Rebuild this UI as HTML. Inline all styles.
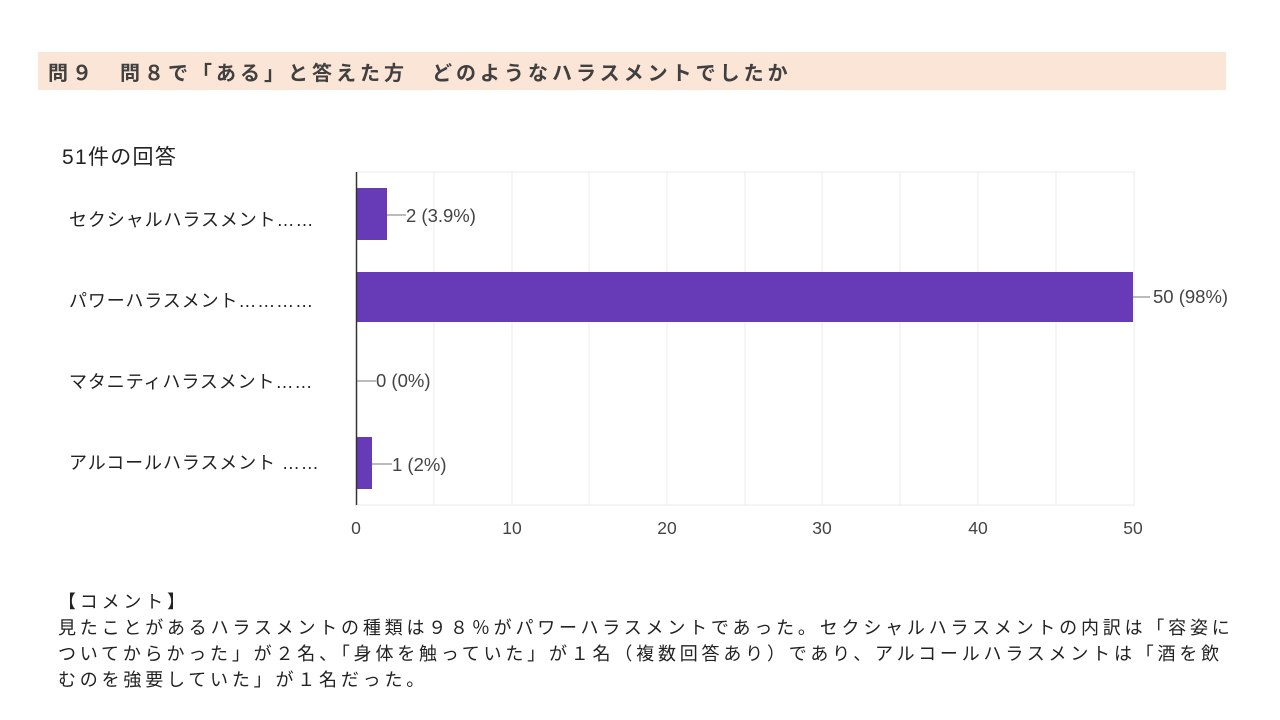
<!DOCTYPE html>
<html><head><meta charset="utf-8"><style>
body{margin:0;width:1280px;height:720px;background:#fff;position:relative;overflow:hidden;font-family:"Liberation Sans","Noto Sans CJK JP",sans-serif;}
.band{position:absolute;left:38px;top:52px;width:1188px;height:38px;background:#fbe5d6;}
.title{position:absolute;left:48px;top:57px;font-size:20px;font-weight:bold;color:#404040;letter-spacing:4px;white-space:nowrap;}
.t{position:absolute;color:#222;white-space:nowrap;}
.lab{font-size:18px;letter-spacing:0.9px;}
</style></head><body>
<div class="band"></div>
<div class="title">問９　問８で「ある」と答えた方　どのようなハラスメントでしたか</div>
<div class="t" style="left:62px;top:141px;font-size:21px;letter-spacing:1.3px;">51件の回答</div>
<div class="t lab" style="left:69px;top:206px;">セクシャルハラスメント……</div>
<div class="t lab" style="left:69px;top:287px;">パワーハラスメント…………</div>
<div class="t lab" style="left:69px;top:368px;">マタニティハラスメント……</div>
<div class="t lab" style="left:69px;top:449px;">アルコールハラスメント ……</div>
<svg style="position:absolute;left:0;top:0" width="1280" height="720">
<g stroke="#ebebeb" stroke-width="1">
<line x1="356" y1="172" x2="1135" y2="172"/>
<line x1="356" y1="505" x2="1135" y2="505"/>
<line x1="434" y1="172" x2="434" y2="505"/><line x1="512" y1="172" x2="512" y2="505"/>
<line x1="589" y1="172" x2="589" y2="505"/><line x1="667" y1="172" x2="667" y2="505"/>
<line x1="745" y1="172" x2="745" y2="505"/><line x1="822" y1="172" x2="822" y2="505"/>
<line x1="900" y1="172" x2="900" y2="505"/><line x1="978" y1="172" x2="978" y2="505"/>
<line x1="1056" y1="172" x2="1056" y2="505"/><line x1="1134" y1="172" x2="1134" y2="505"/>
</g>
<g fill="#673ab7">
<rect x="356" y="188" width="31" height="52"/>
<rect x="356" y="272" width="777" height="50"/>
<rect x="356" y="437" width="16" height="52"/>
</g>
<line x1="356.5" y1="172" x2="356.5" y2="505" stroke="#333" stroke-width="1.5"/>
<g stroke="#777" stroke-width="1">
<line x1="387" y1="215" x2="406" y2="215"/>
<line x1="1133" y1="297" x2="1150" y2="297"/>
<line x1="357" y1="381" x2="376" y2="381"/>
<line x1="372" y1="464" x2="392" y2="464"/>
</g>
<g font-family="Liberation Sans, sans-serif" font-size="18.5" fill="#444">
<text x="406" y="222">2 (3.9%)</text>
<text x="1153" y="303">50 (98%)</text>
<text x="376" y="387">0 (0%)</text>
<text x="392" y="471">1 (2%)</text>
</g>
<g font-family="Liberation Sans, sans-serif" font-size="17.5" fill="#444" text-anchor="middle">
<text x="356" y="534">0</text><text x="512" y="534">10</text><text x="667" y="534">20</text>
<text x="822" y="534">30</text><text x="978" y="534">40</text><text x="1133" y="534">50</text>
</g>
</svg>
<div class="t" style="left:58px;top:589px;font-size:18px;line-height:26px;letter-spacing:3.8px;">【コメント】<br>見たことがあるハラスメントの種類は９８％がパワーハラスメントであった。セクシャルハラスメントの内訳は「容姿に<br>ついてからかった」が２名、「身体を触っていた」が１名（複数回答あり）であり、アルコールハラスメントは「酒を飲<br>むのを強要していた」が１名だった。</div>
</body></html>
